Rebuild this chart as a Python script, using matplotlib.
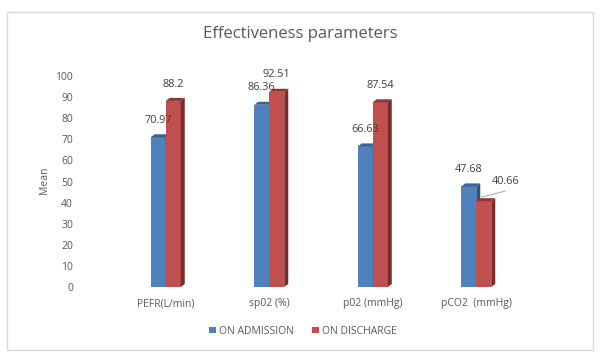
import matplotlib
matplotlib.use("Agg")
import matplotlib.pyplot as plt
from matplotlib.patches import Polygon, Rectangle

categories = ["PEFR(L/min)", "sp02 (%)", "p02 (mmHg)", "pCO2  (mmHg)"]
admission = [70.97, 86.36, 66.63, 47.68]
discharge = [88.2, 92.51, 87.54, 40.66]
series_names = ["ON ADMISSION", "ON DISCHARGE"]
yticks = [0, 10, 20, 30, 40, 50, 60, 70, 80, 90, 100]

plt.rcParams['font.family'] = ['Open Sans', 'DejaVu Sans']

W, H = 600, 357
fig = plt.figure(figsize=(6, 3.57), dpi=100)
fig.patch.set_facecolor("white")

# chart border
fig.add_artist(Rectangle((7 / W, 1 - 350 / H), (593 - 7) / W, (350 - 12) / H,
                         transform=fig.transFigure, fill=False,
                         edgecolor="#D9D9D9", linewidth=1.0))

ax_left, ax_right = 114 / W, 528 / W
ax_bottom, ax_top = 1 - 287 / H, 1 - 76 / H
ax = fig.add_axes([ax_left, ax_bottom, ax_right - ax_left, ax_top - ax_bottom])
ax.set_xlim(-0.5, 3.5)
ax.set_ylim(0, 100)
for s in ax.spines.values():
    s.set_visible(False)
ax.set_yticks(yticks)
ax.set_yticklabels([str(v) for v in yticks], fontsize=7.5, color="#595959")
ax.tick_params(axis="y", length=0, pad=(114 - 73) * 0.72)
ax.set_xticks(range(len(categories)))
ax.set_xticklabels(categories, fontsize=7.5, color="#595959")
ax.tick_params(axis="x", length=0, pad=8)
fig.text(44 / W, 1 - 180 / H, "Mean", rotation=90, ha="center", va="center",
         fontsize=7.5, color="#595959")

bw = 0.145
dx = 4.0 / 103.5
dy = 3 * 100.0 / 211.0

styles = [
    ("#4F81BD", "#3B6496", "#2F5380"),
    ("#C0504D", "#8E3532", "#7A2C2A"),
]

def bar3d(x0, h, face, top, side):
    ax.add_patch(Rectangle((x0, 0), bw, h, facecolor=face, edgecolor="none", zorder=3))
    ax.add_patch(Polygon([(x0, h), (x0 + dx, h + dy), (x0 + bw + dx, h + dy), (x0 + bw, h)],
                         closed=True, facecolor=top, edgecolor="none", zorder=3, clip_on=False))
    ax.add_patch(Polygon([(x0 + bw, 0), (x0 + bw + dx, dy), (x0 + bw + dx, h + dy), (x0 + bw, h)],
                         closed=True, facecolor=side, edgecolor="none", zorder=3, clip_on=False))

for i in range(len(categories)):
    bar3d(i - bw, admission[i], *styles[0])
    bar3d(i, discharge[i], *styles[1])

lab_off = 8.0
for i in range(len(categories)):
    ax.text(i - bw / 2, admission[i] + lab_off, f"{admission[i]:g}", ha="center", va="center",
            fontsize=7.8, color="#404040", zorder=5)
    if i == 3:
        lx, ly = i + 0.28, discharge[i] + 9.2
        ax.plot([i + 0.055, lx], [discharge[i] + 2.0, discharge[i] + 4.8],
                color="#A6A6A6", lw=0.7, zorder=5)
        ax.text(lx, ly, f"{discharge[i]:g}", ha="center", va="center",
                fontsize=7.8, color="#404040", zorder=5)
    else:
        ax.text(i + bw / 2, discharge[i] + lab_off, f"{discharge[i]:g}", ha="center", va="center",
                fontsize=7.8, color="#404040", zorder=5)

fig.text(300 / W, 1 - 34 / H, "Effectiveness parameters", ha="center", va="center",
         fontsize=12, color="#595959")

# legend
handles = [Rectangle((0, 0), 1, 1, facecolor=styles[k][0]) for k in range(2)]
fig.legend(handles, series_names, loc="center", bbox_to_anchor=(303 / W, 1 - 331 / H),
           ncol=2, frameon=False, fontsize=7.5, handlelength=0.6, handleheight=0.6,
           handletextpad=0.3, columnspacing=1.8, labelcolor="#595959")

fig.savefig("out.png", dpi=100, facecolor="white")
